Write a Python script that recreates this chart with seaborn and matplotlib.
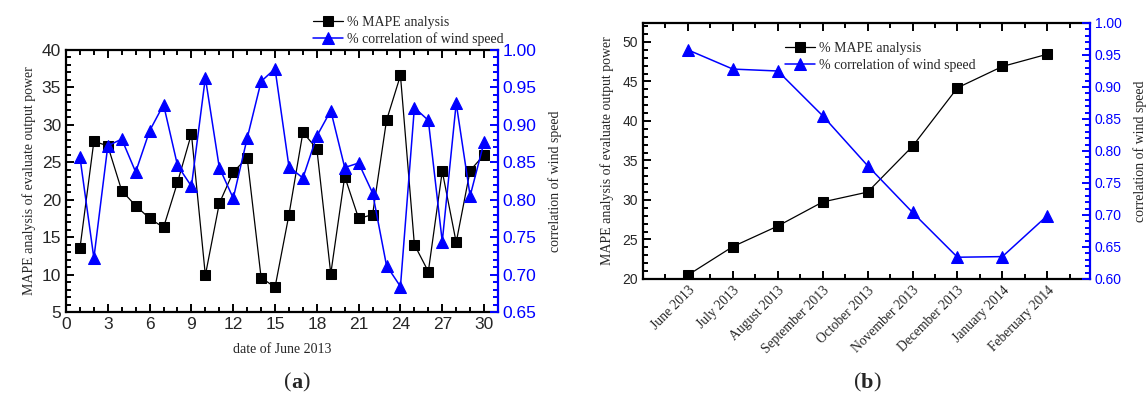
import matplotlib
matplotlib.use("Agg")
import matplotlib.pyplot as plt
import numpy as np
import pandas as pd
import seaborn as sns
from matplotlib.ticker import MultipleLocator, FixedLocator

# ---- data: panel (a) ----
days = list(range(1, 31))
mape_june = [13.5, 27.8, 27.2, 21.2, 19.2, 17.5, 16.3, 22.3, 28.8, 9.9,
             19.5, 23.7, 25.6, 9.6, 8.3, 18.0, 29.0, 26.8, 10.1, 23.1,
             17.5, 18.0, 30.6, 36.6, 14.0, 10.4, 23.8, 14.3, 23.9, 26.0]
corr_june = [0.857, 0.722, 0.872, 0.881, 0.837, 0.892, 0.927, 0.846, 0.818, 0.963,
             0.843, 0.802, 0.882, 0.958, 0.975, 0.844, 0.829, 0.885, 0.919, 0.843,
             0.849, 0.809, 0.712, 0.684, 0.923, 0.906, 0.744, 0.929, 0.805, 0.877]

# ---- data: panel (b) ----
months = ["June 2013", "July 2013", "August 2013", "September 2013", "October 2013",
          "November 2013", "December 2013", "January 2014", "Feberuary 2014"]
mape_month = [20.5, 24.1, 26.7, 29.75, 31.0, 36.8, 44.2, 46.9, 48.45]
corr_month = [0.958, 0.928, 0.925, 0.855, 0.777, 0.704, 0.634, 0.635, 0.699]

label_mape = "% MAPE analysis"
label_corr = "% correlation of wind speed"

sns.set_style("ticks")
plt.rcParams["font.family"] = ["Liberation Sans", "DejaVu Sans"]
SERIF = ["Liberation Serif", "DejaVu Serif"]
BLUE = "#0000ff"

fig = plt.figure(figsize=(11.46, 4.01), dpi=100)

def style_axes(ax, axr, fs):
    for s in ["left", "bottom", "top"]:
        ax.spines[s].set_linewidth(1.6)
        ax.spines[s].set_color("black")
    ax.spines["right"].set_visible(False)
    for s in ["left", "bottom", "top"]:
        axr.spines[s].set_visible(False)
    axr.spines["right"].set_color(BLUE)
    axr.spines["right"].set_linewidth(1.6)
    ax.tick_params(axis="both", which="both", direction="in", top=True, labelsize=fs,
                   width=1.4, color="black")
    ax.tick_params(which="major", length=6)
    ax.tick_params(which="minor", length=3.5)
    axr.tick_params(axis="y", which="both", direction="in", colors=BLUE, labelcolor=BLUE,
                    labelsize=fs, width=1.4)
    axr.tick_params(which="major", length=6)
    axr.tick_params(which="minor", length=3.5)

leg_kw = dict(frameon=False, prop={"family": SERIF, "size": 10},
              handlelength=2.2, handletextpad=0.3, labelspacing=0.25, borderpad=0.2)

# ================= panel (a) =================
ax1 = fig.add_axes([66 / 1146, 1 - 312 / 401, (498 - 66) / 1146, (312 - 50) / 401])
ax1r = ax1.twinx()
dfa = pd.DataFrame({"day": days, "mape": mape_june, "corr": corr_june})
sns.lineplot(data=dfa, x="day", y="mape", ax=ax1, color="black", marker="s",
             markersize=7, markeredgecolor="black", linewidth=0.9, label=label_mape, legend=False)
sns.lineplot(data=dfa, x="day", y="corr", ax=ax1r, color=BLUE, marker="^",
             markersize=9, markeredgecolor=BLUE, linewidth=1.1, label=label_corr, legend=False)
ax1.set_xlim(0, 31)
ax1.set_ylim(5, 40)
ax1r.set_ylim(0.65, 1.00)
ax1.xaxis.set_major_locator(FixedLocator(list(range(0, 31, 3))))
ax1.xaxis.set_minor_locator(MultipleLocator(1))
ax1.yaxis.set_major_locator(MultipleLocator(5))
ax1.yaxis.set_minor_locator(MultipleLocator(1))
ax1r.yaxis.set_major_locator(MultipleLocator(0.05))
ax1r.yaxis.set_minor_locator(MultipleLocator(0.01))
ax1r.yaxis.set_major_formatter(matplotlib.ticker.FormatStrFormatter("%.2f"))
style_axes(ax1, ax1r, 12.5)
ax1.set_xlabel("date of June 2013", family=SERIF, fontsize=10, labelpad=8)
ax1.set_ylabel("MAPE analysis of evaluate output power", family=SERIF, fontsize=10, labelpad=4)
ax1r.set_ylabel("correlation of wind speed", family=SERIF, fontsize=10, labelpad=8)
h1 = ax1.get_lines() + ax1r.get_lines()
ax1.legend(h1, [label_mape, label_corr], loc="upper left", bbox_to_anchor=(303 / 1146, 1 - 6 / 401),
           bbox_transform=fig.transFigure, **leg_kw)

# ================= panel (b) =================
ax2 = fig.add_axes([643 / 1146, 1 - 279 / 401, (1090 - 643) / 1146, (279 - 23) / 401])
ax2r = ax2.twinx()
idx = list(range(len(months)))
dfb = pd.DataFrame({"idx": idx, "mape": mape_month, "corr": corr_month})
sns.lineplot(data=dfb, x="idx", y="mape", ax=ax2, color="black", marker="s",
             markersize=7, markeredgecolor="black", linewidth=0.9, label=label_mape, legend=False)
sns.lineplot(data=dfb, x="idx", y="corr", ax=ax2r, color=BLUE, marker="^",
             markersize=9, markeredgecolor=BLUE, linewidth=1.1, label=label_corr, legend=False)
ax2.set_xlim(-1, 8.95)
ax2.set_ylim(20, 52.4)
ax2r.set_ylim(0.60, 1.00)
ax2.xaxis.set_major_locator(FixedLocator(idx))
ax2.xaxis.set_minor_locator(FixedLocator([i - 0.5 for i in idx] + [len(months) - 0.5]))
ax2.set_xticks(idx)
ax2.set_xticklabels(months, rotation=45, ha="right", rotation_mode="anchor",
                    family=SERIF, fontsize=9.8)
ax2.yaxis.set_major_locator(MultipleLocator(5))
ax2.yaxis.set_minor_locator(MultipleLocator(1))
ax2r.yaxis.set_major_locator(MultipleLocator(0.05))
ax2r.yaxis.set_minor_locator(MultipleLocator(0.01))
ax2r.yaxis.set_major_formatter(matplotlib.ticker.FormatStrFormatter("%.2f"))
style_axes(ax2, ax2r, 10)
for t in ax2.get_xticklabels():
    t.set_family(SERIF)
    t.set_fontsize(9.8)
ax2.set_xlabel("")
ax2.set_ylabel("MAPE analysis of evaluate output power", family=SERIF, fontsize=10, labelpad=6)
ax2r.set_ylabel("correlation of wind speed", family=SERIF, fontsize=10, labelpad=8)
h2 = ax2.get_lines() + ax2r.get_lines()
ax2.legend(h2, [label_mape, label_corr], loc="upper left", bbox_to_anchor=(775 / 1146, 1 - 32 / 401),
           bbox_transform=fig.transFigure, **leg_kw)

# panel labels
fig.text(291 / 1146, 1 - 383 / 401, "(", ha="right", va="center", family=SERIF, fontsize=16)
fig.text(291 / 1146, 1 - 383 / 401, "a", ha="left", va="center", family=SERIF, fontsize=16, weight="bold")
fig.text(302 / 1146, 1 - 383 / 401, ")", ha="left", va="center", family=SERIF, fontsize=16)
fig.text(861 / 1146, 1 - 383 / 401, "(", ha="right", va="center", family=SERIF, fontsize=16)
fig.text(861 / 1146, 1 - 383 / 401, "b", ha="left", va="center", family=SERIF, fontsize=16, weight="bold")
fig.text(873 / 1146, 1 - 383 / 401, ")", ha="left", va="center", family=SERIF, fontsize=16)

fig.savefig("out.png", dpi=100)
